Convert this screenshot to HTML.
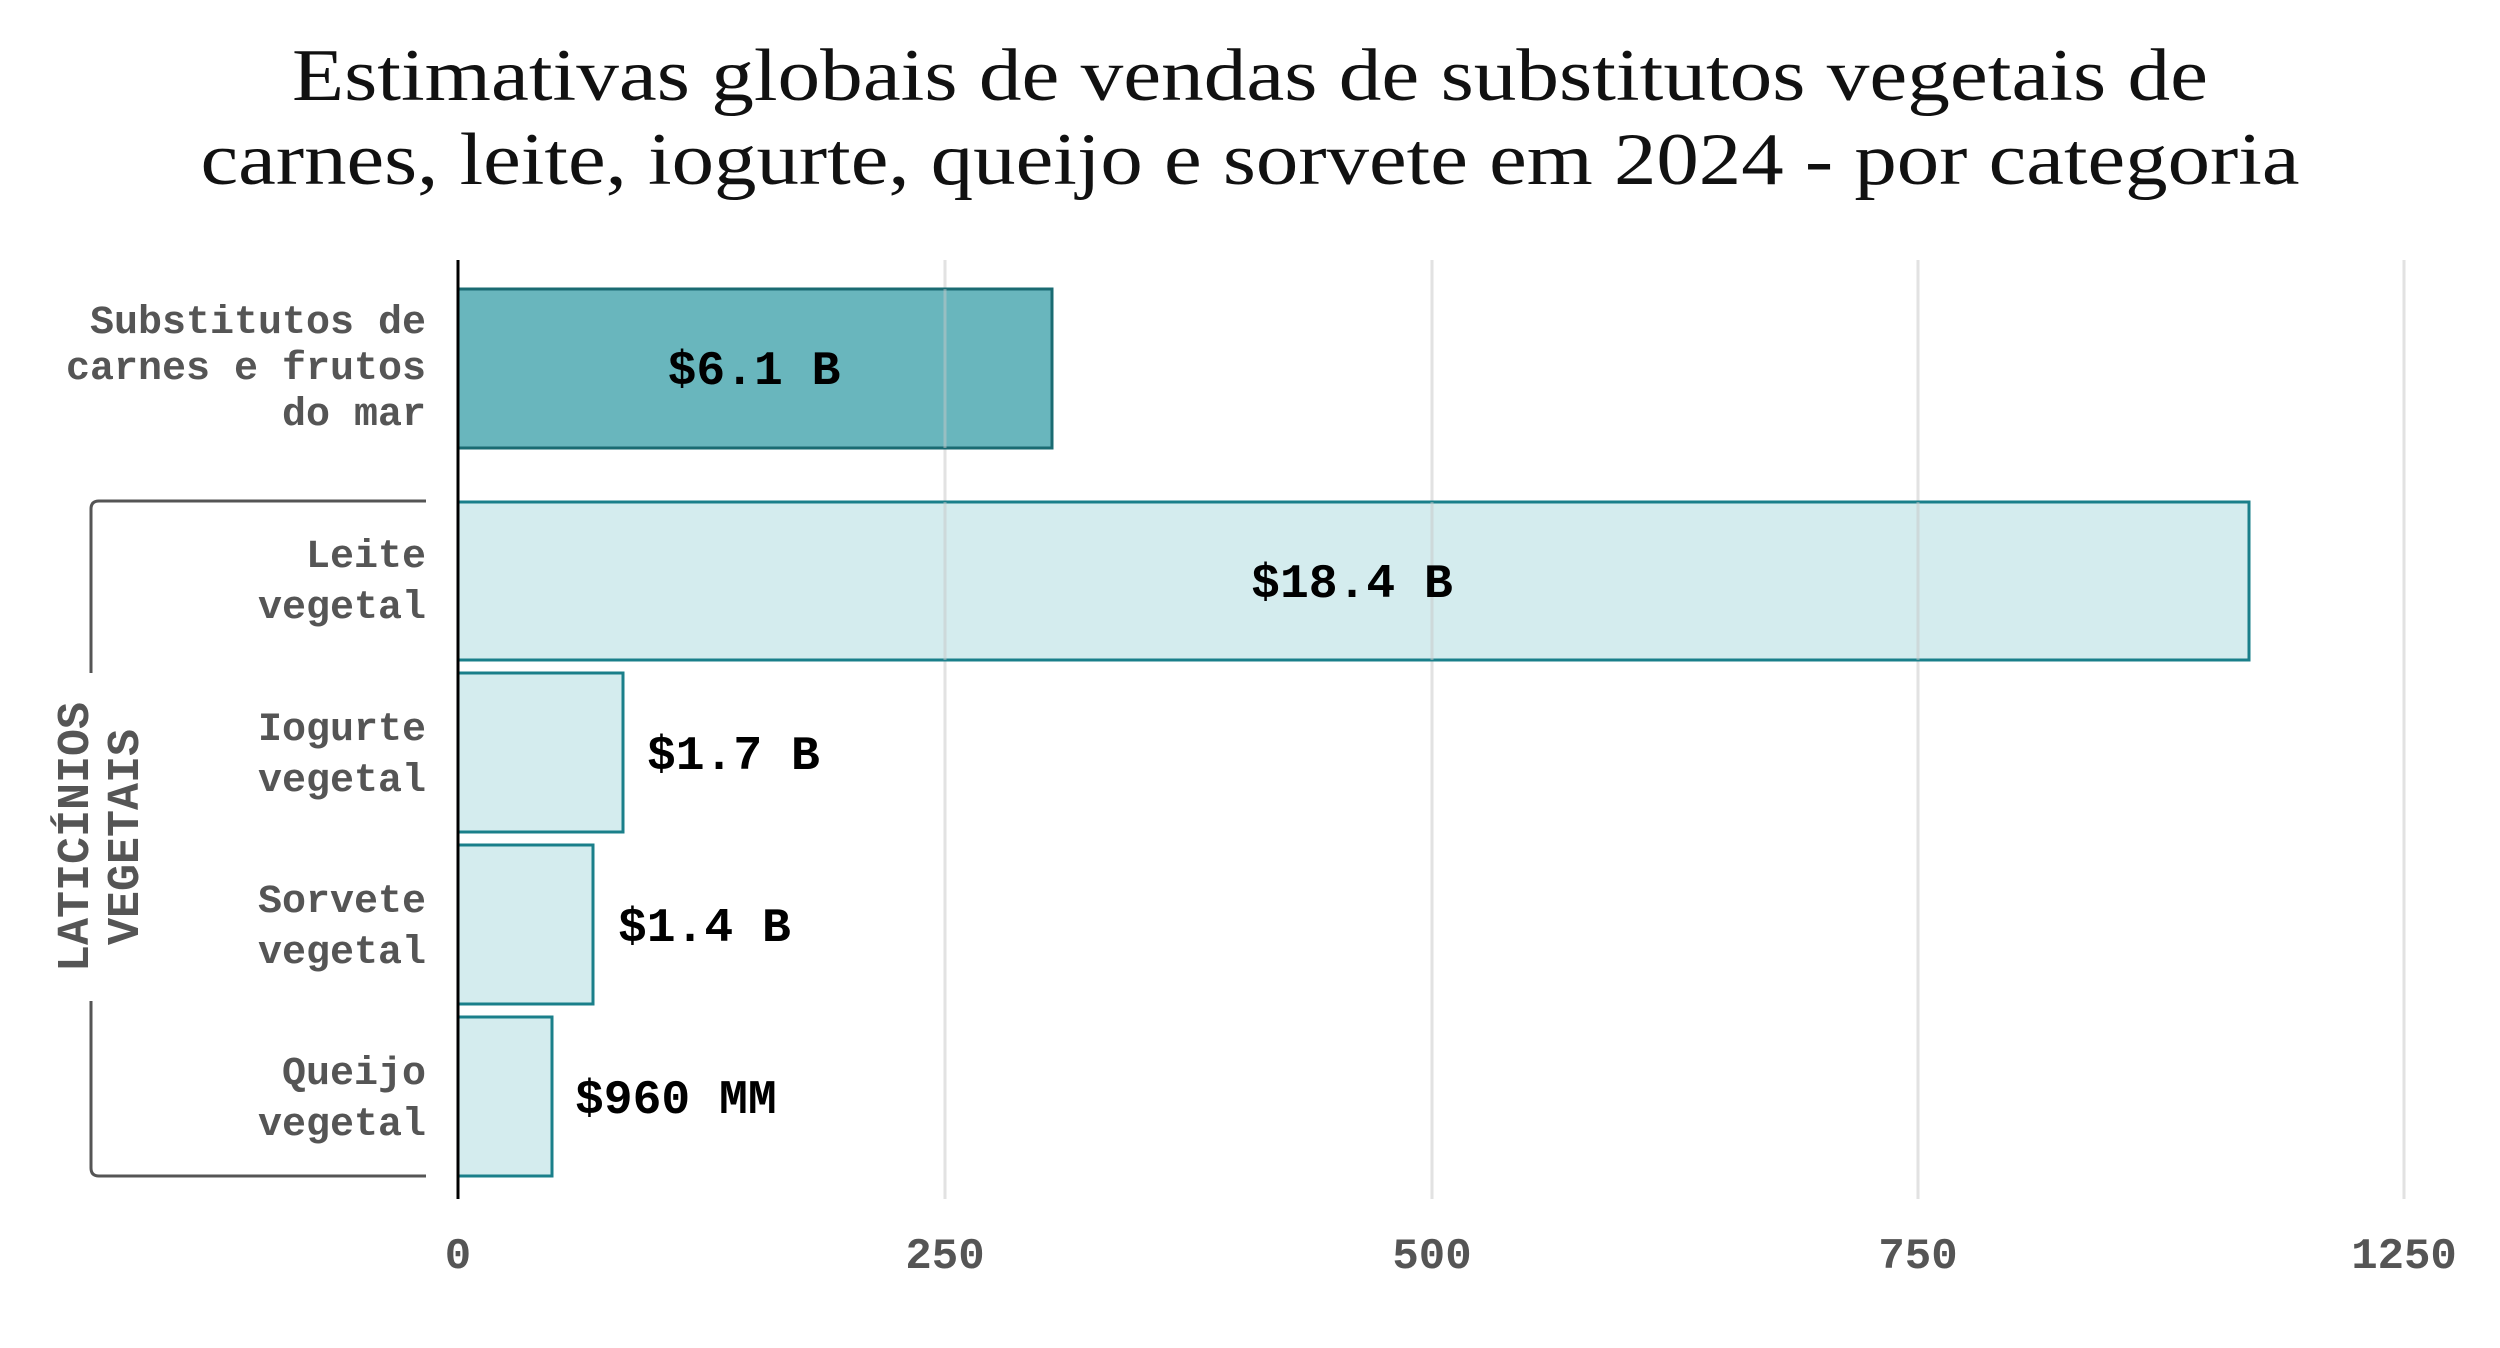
<!DOCTYPE html>
<html><head><meta charset="utf-8"><style>
html,body{margin:0;padding:0;background:#fff;}
svg{display:block}
.t{font-family:"Liberation Serif",serif;font-size:74px;fill:#111;}
.c{font-family:"Liberation Mono",monospace;font-weight:bold;font-size:40px;fill:#555;}
.v{font-family:"Liberation Mono",monospace;font-weight:bold;font-size:48px;fill:#000;}
.k{font-family:"Liberation Mono",monospace;font-weight:bold;font-size:45px;fill:#555;}
.g{font-family:"Liberation Mono",monospace;font-weight:bold;font-size:44px;fill:#555;}
</style></head><body>
<svg width="2500" height="1348" viewBox="0 0 2500 1348" xmlns="http://www.w3.org/2000/svg">
<text class="t" x="1250" y="100" text-anchor="middle" textLength="1916" lengthAdjust="spacingAndGlyphs">Estimativas globais de vendas de substitutos vegetais de</text>
<text class="t" x="1250" y="184" text-anchor="middle" textLength="2099" lengthAdjust="spacingAndGlyphs">carnes, leite, iogurte, queijo e sorvete em 2024 - por categoria</text>
<g stroke="#e2e2e2" stroke-width="3">
<line x1="945" y1="260" x2="945" y2="1199"/>
<line x1="1432" y1="260" x2="1432" y2="1199"/>
<line x1="1918" y1="260" x2="1918" y2="1199"/>
<line x1="2404" y1="260" x2="2404" y2="1199"/>
</g>
<rect x="458" y="289" width="594" height="159" fill="#66b5bc" fill-opacity="0.98" stroke="#1a6b72" stroke-width="3"/>
<g fill="#d4ecee" stroke="#1a7f8a" stroke-width="3">
<rect x="458" y="502" width="1791" height="158"/>
<rect x="458" y="673" width="165" height="159"/>
<rect x="458" y="845" width="135" height="159"/>
<rect x="458" y="1017" width="94" height="159"/>
</g>
<g stroke="#c8c8c8" stroke-width="3" opacity="0.5">
<line x1="945" y1="289" x2="945" y2="448"/>
<line x1="945" y1="502" x2="945" y2="660"/>
<line x1="1432" y1="502" x2="1432" y2="660"/>
<line x1="1918" y1="502" x2="1918" y2="660"/>
</g>
<line x1="458" y1="260" x2="458" y2="1199" stroke="#000" stroke-width="3"/>
<text class="v" x="754" y="384" text-anchor="middle">$6.1 B</text>
<text class="v" x="1352" y="597" text-anchor="middle">$18.4 B</text>
<text class="v" x="647" y="769">$1.7 B</text>
<text class="v" x="618" y="941">$1.4 B</text>
<text class="v" x="575" y="1113">$960 MM</text>
<g class="c" text-anchor="end">
<text x="426" y="333">Substitutos de</text>
<text x="426" y="379">carnes e frutos</text>
<text x="426" y="425">do mar</text>
<text x="426" y="567">Leite</text>
<text x="426" y="618">vegetal</text>
<text x="426" y="740">Iogurte</text>
<text x="426" y="791">vegetal</text>
<text x="426" y="912">Sorvete</text>
<text x="426" y="963">vegetal</text>
<text x="426" y="1084">Queijo</text>
<text x="426" y="1135">vegetal</text>
</g>
<path d="M426 501 H99 Q91 501 91 509 V673" fill="none" stroke="#555" stroke-width="3"/>
<path d="M91 1001 V1168 Q91 1176 99 1176 H426" fill="none" stroke="#555" stroke-width="3"/>
<g transform="translate(96,837) rotate(-90)" class="k" text-anchor="middle">
<text x="0" y="-8">LATICÍNIOS</text>
<text x="0" y="42">VEGETAIS</text>
</g>
<g class="g" text-anchor="middle">
<text x="458" y="1268">0</text>
<text x="945" y="1268">250</text>
<text x="1432" y="1268">500</text>
<text x="1918" y="1268">750</text>
<text x="2404" y="1268">1250</text>
</g>
</svg>
</body></html>
